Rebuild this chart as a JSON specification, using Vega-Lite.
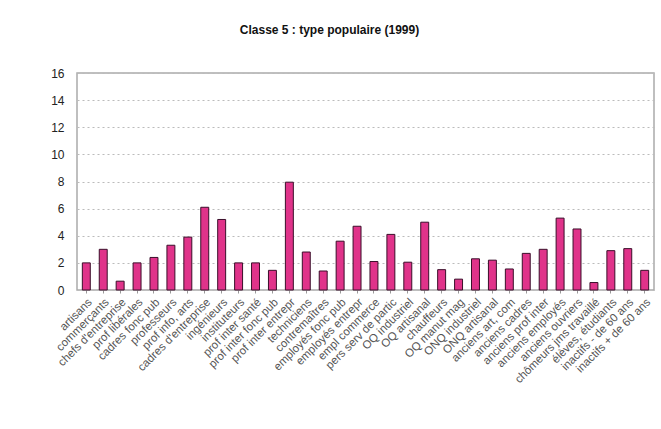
{
  "$schema": "https://vega.github.io/schema/vega-lite/v6.json",
  "width": 577,
  "height": 217,
  "autosize": "none",
  "padding": {"left": 77, "top": 73, "right": 7, "bottom": 139},
  "background": "white",
  "title": {
    "text": "Classe 5 : type populaire (1999)",
    "font": "Liberation Sans",
    "fontSize": 12,
    "fontWeight": "bold",
    "color": "#111",
    "anchor": "middle",
    "offset": 30,
    "dx": -36
  },
  "data": {
    "values": [
      {"cat": "artisans", "v": 2.0},
      {"cat": "commerçants", "v": 3.0},
      {"cat": "chefs d'entreprise", "v": 0.65},
      {"cat": "prof libérales", "v": 2.0},
      {"cat": "cadres fonc pub", "v": 2.4},
      {"cat": "professeurs", "v": 3.3},
      {"cat": "prof info, arts", "v": 3.9},
      {"cat": "cadres d'entreprise", "v": 6.1},
      {"cat": "ingénieurs", "v": 5.2},
      {"cat": "instituteurs", "v": 2.0},
      {"cat": "prof inter santé", "v": 2.0},
      {"cat": "prof inter fonc pub", "v": 1.45},
      {"cat": "prof inter entrepr", "v": 7.95},
      {"cat": "techniciens", "v": 2.8},
      {"cat": "contremaîtres", "v": 1.4},
      {"cat": "employés fonc pub", "v": 3.6},
      {"cat": "employés entrepr", "v": 4.7},
      {"cat": "empl commerce", "v": 2.1},
      {"cat": "pers serv de partic", "v": 4.1},
      {"cat": "OQ industriel", "v": 2.05},
      {"cat": "OQ artisanal", "v": 5.0},
      {"cat": "chauffeurs", "v": 1.5},
      {"cat": "OQ manut mag", "v": 0.8},
      {"cat": "ONQ industriel", "v": 2.3},
      {"cat": "ONQ artisanal", "v": 2.2},
      {"cat": "anciens art, com", "v": 1.55},
      {"cat": "anciens cadres", "v": 2.7},
      {"cat": "anciens prof inter", "v": 3.0},
      {"cat": "anciens employés", "v": 5.3},
      {"cat": "anciens ouvriers", "v": 4.5},
      {"cat": "chômeurs jms travaillé", "v": 0.55},
      {"cat": "élèves, étudiants", "v": 2.9},
      {"cat": "inactifs - de 60 ans", "v": 3.05},
      {"cat": "inactifs + de 60 ans", "v": 1.45}
    ]
  },
  "mark": {"type": "bar", "color": "#e0338a", "stroke": "#3a0f2a", "strokeWidth": 1, "width": {"band": 0.47}},
  "encoding": {
    "x": {
      "field": "cat",
      "type": "nominal",
      "sort": null,
      "title": null,
      "scale": {"paddingInner": 0, "paddingOuter": 0.05},
      "axis": {
        "labelAngle": -45,
        "labelFont": "Liberation Sans",
        "labelFontSize": 11.5,
        "labelColor": "#555",
        "labelPadding": 3,
        "domain": false,
        "ticks": true,
        "tickSize": 3,
        "tickColor": "#999",
        "grid": false
      }
    },
    "y": {
      "field": "v",
      "type": "quantitative",
      "title": null,
      "scale": {"domain": [0, 16], "nice": false},
      "axis": {
        "values": [0, 2, 4, 6, 8, 10, 12, 14, 16],
        "labelFont": "Liberation Sans",
        "labelFontSize": 12,
        "labelColor": "#222",
        "labelPadding": 13,
        "domain": false,
        "ticks": false,
        "grid": true,
        "gridColor": "#bbb",
        "gridDash": [2, 3],
        "gridWidth": 1
      }
    }
  },
  "config": {
    "view": {"stroke": "#aaa", "strokeWidth": 1.5}
  }
}
